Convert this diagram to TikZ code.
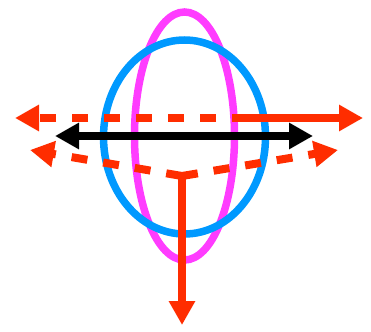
\documentclass[tikz,border=0pt]{standalone}
\usetikzlibrary{arrows.meta}
\definecolor{rd}{RGB}{255,45,0}
\definecolor{bl}{RGB}{0,153,255}
\definecolor{mg}{RGB}{255,60,255}
\tikzset{
  ring/.style={line width=7.5pt},
  bigtip/.style={-{Triangle[length=24pt,width=25pt]}},
  dtip/.style={{Triangle[length=24pt,width=25pt]}-{Triangle[length=24pt,width=25pt]}},
  redline/.style={rd,line width=8pt},
  dsh/.style={dash pattern=on 16pt off 16pt},
}
\begin{document}
\begin{tikzpicture}[x=1pt,y=-1pt]
\useasboundingbox (0,0) rectangle (371,331);
\draw[ring,mg] (184.5,136) ellipse [x radius=50, y radius=124];
\draw[ring,bl] (184.5,137) ellipse [x radius=81, y radius=97];
\coordinate (lt) at (15,118);
\coordinate (mt) at (232,118);
\coordinate (rt) at (363,118);
\coordinate (c) at (182,176);
\coordinate (ll) at (30,150);
\coordinate (lr) at (338,150);
\coordinate (bt) at (182,325);
\coordinate (kl) at (55,136);
\coordinate (kr) at (313,136);
\draw[redline,dsh,bigtip,dash phase=16pt] (mt) -- (lt);
\draw[redline,bigtip] (mt) -- (rt);
\draw[black,line width=7.5pt,dtip] (kl) -- (kr);
\draw[redline,dsh,bigtip] (c) -- (ll);
\draw[redline,dsh,bigtip] (c) -- (lr);
\draw[redline,bigtip] (c) -- (bt);
\end{tikzpicture}
\end{document}
